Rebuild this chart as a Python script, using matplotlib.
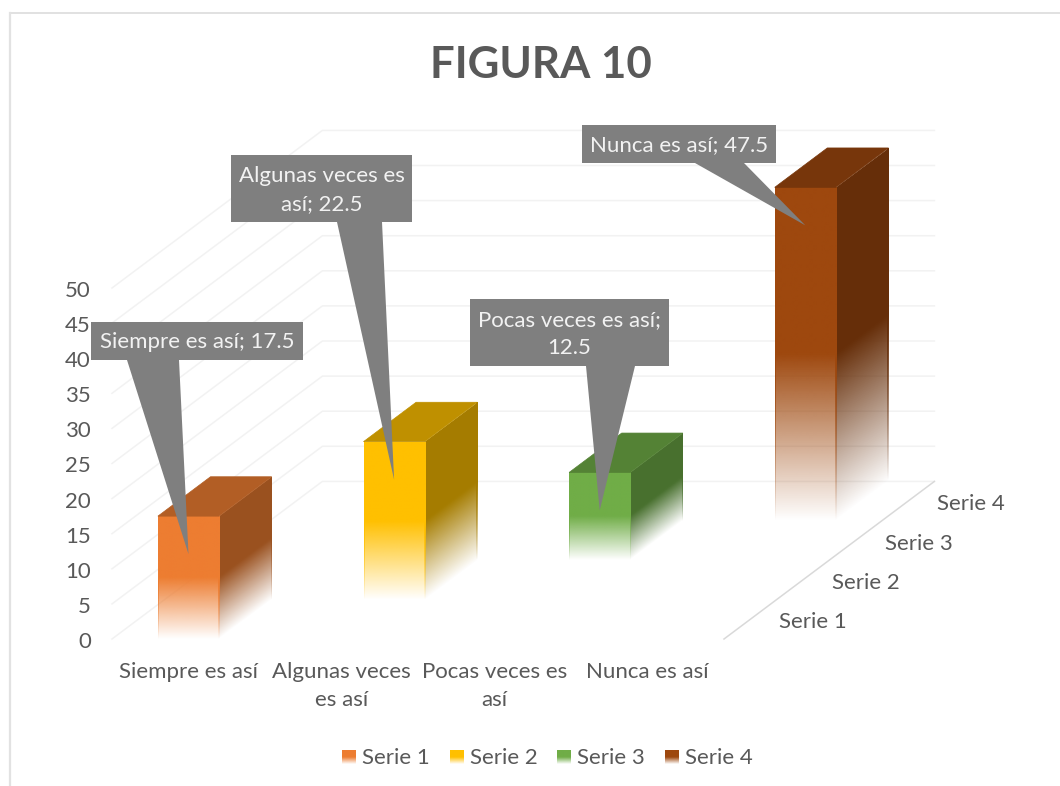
import numpy as np
import matplotlib
matplotlib.use("Agg")
import matplotlib.pyplot as plt
from matplotlib.patches import Polygon
from matplotlib.transforms import Affine2D

plt.rcParams['font.family'] = ['Lato', 'DejaVu Sans']

# Datos de la figura
categorias = ["Siempre es así", "Algunas veces\nes así", "Pocas veces es\nasí", "Nunca es así"]
series = ["Serie 1", "Serie 2", "Serie 3", "Serie 4"]
valores = [17.5, 22.5, 12.5, 47.5]
etiquetas = ["Siempre es así; 17.5", "Algunas veces es\nasí; 22.5", "Pocas veces es así;\n12.5", "Nunca es así; 47.5"]
marcas_y = [0, 5, 10, 15, 20, 25, 30, 35, 40, 45, 50]
colores = ["#ED7D31", "#FFC000", "#70AD47", "#9E480E"]

# Cajas de las etiquetas: izquierda, derecha, arriba, abajo, base de la punta
cajas = [(91, 303, 322, 360, 127, 179),
         (231, 412, 155, 222, 337, 382),
         (470, 669, 299, 366, 586, 635),
         (582, 776, 125, 163, 695, 744)]

# Proyección oblicua del gráfico 3D a píxeles
X0, Y0 = 112, 639
ANCHO_CAT = 153
DX, DY = 52.6, 39.4
ESCALA = 7.02
ANCHO_BARRA = 0.4
GRIS_TEXTO = "#595959"
GRIS_REJILLA = "#f2f2f2"
TAM = 16


def proyectar(cat, serie, valor):
    return (X0 + cat * ANCHO_CAT + serie * DX, Y0 - serie * DY - valor * ESCALA)


def degradado(color, filas=256):
    # t=0 abajo (transparente), t=1 arriba (color lleno)
    rgb = matplotlib.colors.to_rgb(color)
    t = np.linspace(0, 1, filas)
    alfa = np.interp(t, [0, 0.42, 0.50, 1], [0, 0.84, 1, 1])
    img = np.ones((filas, 2, 4))
    img[:, :, :3] = rgb
    img[:, :, 3] = alfa[:, None]
    return img


def cara_degradada(ax, p0, u, v, color, z=3):
    matriz = Affine2D.from_values(u[0], u[1], v[0], v[1], p0[0], p0[1])
    im = ax.imshow(degradado(color), extent=(0, 1, 0, 1), origin='lower', aspect='auto',
                   interpolation='bilinear', transform=matriz + ax.transData, zorder=z)
    esquinas = [p0, (p0[0] + u[0], p0[1] + u[1]), (p0[0] + u[0] + v[0], p0[1] + u[1] + v[1]),
                (p0[0] + v[0], p0[1] + v[1])]
    im.set_clip_path(Polygon(esquinas, transform=ax.transData))


def oscurecer(color, f):
    return tuple(c * f for c in matplotlib.colors.to_rgb(color))


fig = plt.figure(figsize=(10.6, 7.86), dpi=100)
ax = fig.add_axes([0, 0, 1, 1])

# Rejilla: pared lateral y pared del fondo
n_series = len(series)
n_cat = len(categorias)
for v in marcas_y:
    a = proyectar(0, 0, v)
    b = proyectar(0, n_series, v)
    c = proyectar(n_cat, n_series, v)
    ax.plot([a[0], b[0], c[0]], [a[1], b[1], c[1]], color=GRIS_REJILLA, lw=1.1, zorder=1)
    ax.text(a[0] - 21, a[1] + 3, str(v), ha='right', va='center', fontsize=TAM, color=GRIS_TEXTO)

# Borde del suelo a la derecha
a = proyectar(n_cat, 0, 0)
b = proyectar(n_cat, n_series, 0)
ax.plot([a[0], b[0]], [a[1], b[1]], color="#d9d9d9", lw=1.1, zorder=2)

# Barras: cada categoría tiene una sola serie
margen = (1 - ANCHO_BARRA) / 2
for i, valor in enumerate(valores):
    izq = i + margen
    der = izq + ANCHO_BARRA
    fa = proyectar(izq, i, 0)
    fb = proyectar(der, i, 0)
    fc = proyectar(der, i, valor)
    fd = proyectar(izq, i, valor)
    tc = proyectar(der, i + 1, valor)
    td = proyectar(izq, i + 1, valor)
    sb = proyectar(der, i + 1, 0)
    alto = (0, fd[1] - fa[1])
    lateral = oscurecer(colores[i], 0.65)
    cara_degradada(ax, fb, (sb[0] - fb[0], sb[1] - fb[1]), alto, lateral)
    cara_degradada(ax, fa, (fb[0] - fa[0], 0), alto, colores[i])
    # filetes de las aristas verticales
    cara_degradada(ax, fa, (1.0, 0), alto, colores[i], z=3.5)
    cara_degradada(ax, (fb[0] - 0.8, fb[1]), (1.6, 0), alto, colores[i], z=3.5)
    cara_degradada(ax, (sb[0] - 1.0, sb[1]), (1.2, 0), alto, lateral, z=3.5)
    sup = oscurecer(colores[i], 0.75)
    ax.add_patch(Polygon([fd, fc, tc, td], facecolor=sup, edgecolor=sup, lw=0.5, zorder=3.6))

    # Etiqueta con punta hacia la barra
    L, R, T, B, b1, b2 = cajas[i]
    punta = ((fa[0] + fb[0]) / 2, fd[1] + 38)
    ax.add_patch(Polygon([(L, T), (R, T), (R, B), (b2, B), punta, (b1, B), (L, B)],
                         facecolor="#7f7f7f", edgecolor='none', zorder=5))
    ax.text((L + R) / 2, (T + B) / 2 + 1.5, etiquetas[i], ha='center', va='center', fontsize=TAM,
            color="#f2f2f2", linespacing=1.55, zorder=6)

# Etiquetas de categoría y de serie
for i, nombre in enumerate(categorias):
    x, y = proyectar(i + 0.5, 0, 0)
    ax.text(x, y + 23, nombre, ha='center', va='top', fontsize=TAM, color=GRIS_TEXTO, linespacing=1.5)
for i, nombre in enumerate(series):
    x, y = proyectar(n_cat, i + 0.5, 0)
    ax.text(x + 63, y + 3, nombre, ha='center', va='center', fontsize=TAM, color=GRIS_TEXTO)

# Leyenda
for i, nombre in enumerate(series):
    x = 342 + i * 107.7
    ax.imshow(degradado(colores[i]), extent=(x, x + 14, 764, 750), origin='lower', aspect='auto',
              interpolation='bilinear', zorder=3)
    ax.text(x + 20, 758, nombre, ha='left', va='center', fontsize=TAM, color=GRIS_TEXTO)

# Título
ax.text(541, 65, "FIGURA 10", ha='center', va='center', fontsize=31.5, fontweight='bold', color=GRIS_TEXTO)

# Marco del gráfico
ax.plot([9.5, 1060], [13, 13], color="#d9d9d9", lw=1.1, zorder=2)
ax.plot([9.5, 9.5], [13, 786], color="#e2e2e2", lw=1.6, zorder=2)

ax.set_xlim(0, 1060)
ax.set_ylim(786, 0)
ax.axis('off')
fig.savefig("out.png", dpi=100)
